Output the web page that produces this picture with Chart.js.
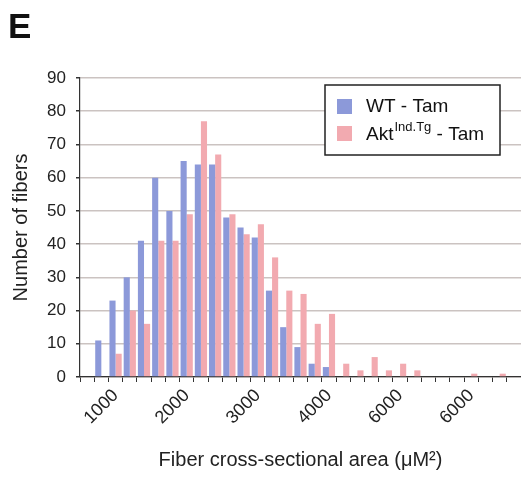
<!DOCTYPE html>
<html>
<head>
<meta charset="utf-8">
<script src="https://cdn.jsdelivr.net/npm/chart.js@4"></script>
<style>
  body { margin: 0; background: #fff; }
  #wrap { width: 521px; height: 478px; }
</style>
</head>
<body>
<div id="wrap"><canvas id="fiberChart" width="521" height="478"></canvas></div>
<script>
// bins of fiber cross-sectional area, 200 uM^2 wide
const bins = [600, 800, 1000, 1200, 1400, 1600, 1800, 2000, 2200, 2400, 2600,
    2800, 3000, 3200, 3400, 3600, 3800, 4000, 4200, 4400, 4600, 4800, 5000,
    5200, 5400, 5600, 5800, 6000, 6200, 6400, 6600];

// tick labels as printed on the figure (yes, the 5000 one says 6000)
const tickLabels = ['', '', '1000', '', '', '', '', '2000', '', '', '', '', '3000',
    '', '', '', '', '4000', '', '', '', '', '6000', '', '', '', '', '6000', '', '', ''];

const wtTam = [0, 11, 23, 30, 41, 60, 50, 65, 64, 64, 48, 45, 42, 26, 15, 9, 4, 3,
    0, 0, 0, 0, 0, 0, 0, 0, 0, 0, 0, 0, 0];
const aktTam = [0, 0, 7, 20, 16, 41, 41, 49, 77, 67, 49, 43, 46, 36, 26, 25, 16, 19,
    4, 2, 6, 2, 4, 2, 0, 0, 0, 1, 0, 1, 0];

const yTicks = [0, 10, 20, 30, 40, 50, 60, 70, 80, 90];

const FONT = "'Liberation Sans', Arial, Helvetica, sans-serif";
const BLUE = '#8c99d9';
const PINK = '#f2aab0';
const AXIS = '#333333';

// panel letter + legend with superscript, drawn on top
const extras = {
    id: 'extras',
    afterDatasetsDraw(chart) {
        const ctx = chart.ctx;
        ctx.save();

        ctx.fillStyle = '#111';
        ctx.font = 'bold 35px ' + FONT;
        ctx.textBaseline = 'alphabetic';
        ctx.fillText('E', 8, 38);

        // legend box
        ctx.fillStyle = '#fff';
        ctx.fillRect(325, 85, 175, 70);
        ctx.strokeStyle = '#222';
        ctx.lineWidth = 1.5;
        ctx.strokeRect(325, 85, 175, 70);

        ctx.fillStyle = BLUE;
        ctx.fillRect(337, 99, 15, 15);
        ctx.fillStyle = PINK;
        ctx.fillRect(337, 126, 15, 15);

        ctx.fillStyle = '#111';
        ctx.font = '19px ' + FONT;
        ctx.fillText('WT - Tam', 366, 112);

        let x = 366;
        ctx.fillText('Akt', x, 140);
        x += ctx.measureText('Akt').width + 1;
        ctx.font = '13px ' + FONT;
        ctx.fillText('Ind.Tg', x, 131);
        x += ctx.measureText('Ind.Tg').width;
        ctx.font = '19px ' + FONT;
        ctx.fillText(' - Tam', x, 140);

        ctx.restore();
    }
};

new Chart(document.getElementById('fiberChart'), {
    type: 'bar',
    data: {
        labels: bins,
        datasets: [
            { label: 'WT - Tam', data: wtTam, backgroundColor: BLUE },
            { label: 'Akt Ind.Tg - Tam', data: aktTam, backgroundColor: PINK }
        ]
    },
    options: {
        responsive: false,
        animation: false,
        layout: { padding: { left: 9, top: 78, right: 0, bottom: 4 } },
        datasets: { bar: { categoryPercentage: 0.86, barPercentage: 1.0 } },
        plugins: {
            legend: { display: false },
            tooltip: { enabled: false }
        },
        scales: {
            x: {
                afterFit(scale) {
                    scale.height = 97;
                    scale.paddingRight = 0;
                },
                grid: {
                    offset: true,
                    drawOnChartArea: false,
                    drawTicks: true,
                    tickLength: 5,
                    tickColor: AXIS
                },
                border: { display: true, color: AXIS, width: 1.2 },
                ticks: {
                    autoSkip: false,
                    minRotation: 45,
                    maxRotation: 45,
                    padding: 3,
                    color: '#222',
                    font: { family: FONT, size: 18 },
                    callback: (val, i) => tickLabels[i]
                },
                title: {
                    display: true,
                    text: 'Fiber cross-sectional area (\u03bcM\u00b2)',
                    color: '#222',
                    font: { family: FONT, size: 20 },
                    padding: { top: 0, bottom: 2 }
                }
            },
            y: {
                min: 0,
                max: 90,
                afterFit(scale) { scale.width = 71; },
                afterBuildTicks(scale) { scale.ticks = yTicks.map(v => ({ value: v })); },
                grid: {
                    color: '#cbc3c1',
                    lineWidth: 1.5,
                    drawTicks: true,
                    tickLength: 4,
                    tickColor: AXIS
                },
                border: { display: true, color: AXIS, width: 1.2 },
                ticks: {
                    padding: 10,
                    color: '#222',
                    font: { family: FONT, size: 17 }
                },
                title: {
                    display: true,
                    text: 'Number of fibers',
                    color: '#222',
                    font: { family: FONT, size: 20 },
                    padding: { top: 0, bottom: 0 }
                }
            }
        }
    },
    plugins: [extras]
});
</script>
</body>
</html>
